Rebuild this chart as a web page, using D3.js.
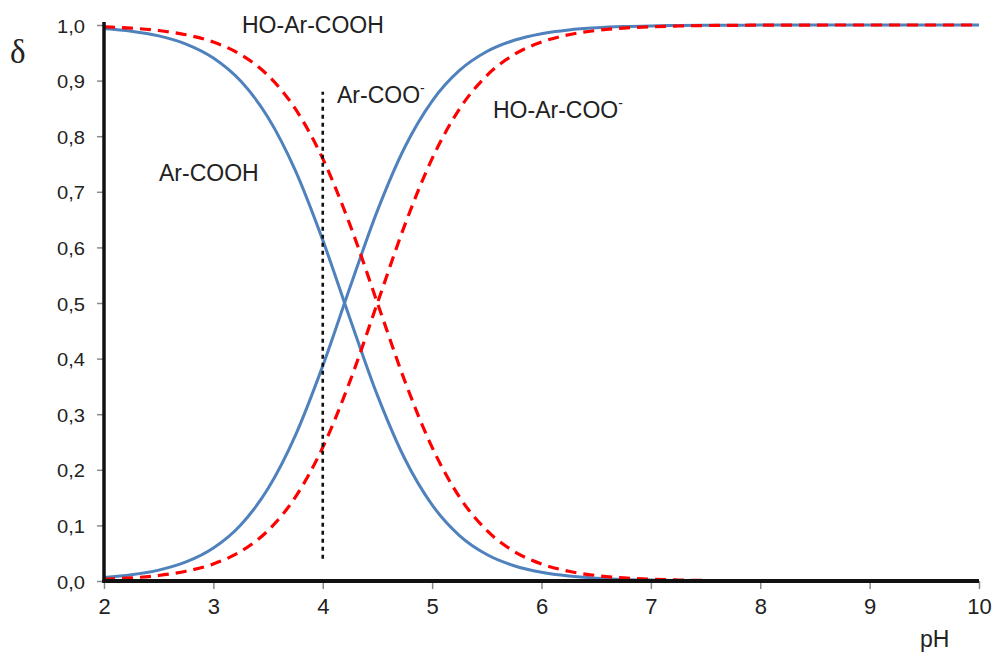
<!DOCTYPE html>
<html>
<head>
<meta charset="utf-8">
<script src="https://cdn.jsdelivr.net/npm/d3@7"></script>
<style>
  html, body { margin: 0; padding: 0; background: #fff; }
  svg { display: block; font-family: "Liberation Sans", Arial, sans-serif; }
</style>
</head>
<body>
<svg id="chart" width="994" height="657"></svg>
<script>
// pH grid (step 0.25 from 2 to 10)
const pH = d3.range(2, 10.0001, 0.25);

// Fraction of benzoic acid species
const arCOOH = [0.9937, 0.9889, 0.9804, 0.9657, 0.9406, 0.8991, 0.8337, 0.7381, 0.6131, 0.4713, 0.3338,
  0.2198, 0.1368, 0.0818, 0.0477, 0.0274, 0.0156, 0.0088, 0.0050, 0.0028, 0.0016, 0.0009, 0.0005,
  0.0003, 0.0002, 0.0001, 0, 0, 0, 0, 0, 0, 0];
const arCOO = [0.0063, 0.0111, 0.0196, 0.0343, 0.0594, 0.1009, 0.1663, 0.2619, 0.3869, 0.5287, 0.6662,
  0.7802, 0.8632, 0.9182, 0.9523, 0.9726, 0.9844, 0.9912, 0.9950, 0.9972, 0.9984, 0.9991, 0.9995,
  0.9997, 0.9998, 0.9999, 1, 1, 1, 1, 1, 1, 1];

// Fraction of hydroxybenzoic acid species
const hoArCOOH = [0.9968, 0.9944, 0.9901, 0.9825, 0.9693, 0.9468, 0.9091, 0.8490, 0.7597, 0.6401, 0.5000,
  0.3599, 0.2403, 0.1510, 0.0909, 0.0532, 0.0307, 0.0175, 0.0099, 0.0056, 0.0032, 0.0018, 0.0010,
  0.0006, 0.0003, 0.0002, 0.0001, 0, 0, 0, 0, 0, 0];
const hoArCOO = [0.0032, 0.0056, 0.0099, 0.0175, 0.0307, 0.0532, 0.0909, 0.1510, 0.2403, 0.3599, 0.5000,
  0.6401, 0.7597, 0.8490, 0.9091, 0.9468, 0.9693, 0.9825, 0.9901, 0.9944, 0.9968, 0.9982, 0.9990,
  0.9994, 0.9997, 0.9998, 0.9999, 1, 1, 1, 1, 1, 1];

// Marker line at pH 4
const markerPH = 4;
const markerRange = [0.04, 0.88];

const xTicks = [2, 3, 4, 5, 6, 7, 8, 9, 10];
const yTicks = [0, 0.1, 0.2, 0.3, 0.4, 0.5, 0.6, 0.7, 0.8, 0.9, 1.0];

const svg = d3.select("#chart");
const x = d3.scaleLinear().domain([2, 10]).range([104, 979]);
const y = d3.scaleLinear().domain([0, 1]).range([581, 25]);

const line = vals => d3.line()
  .x((d, i) => x(pH[i]))
  .y(d => y(d))
  .curve(d3.curveMonotoneX)(vals);

const blue = "#4F81BD";
const red = "#FF0000";

// Benzoic acid curves (solid blue)
[arCOOH, arCOO].forEach(v => {
  svg.append("path").attr("d", line(v))
    .attr("fill", "none").attr("stroke", blue).attr("stroke-width", 3);
});

// Hydroxybenzoic acid curves (dashed red)
[hoArCOOH, hoArCOO].forEach(v => {
  svg.append("path").attr("d", line(v))
    .attr("fill", "none").attr("stroke", red).attr("stroke-width", 3.2)
    .attr("stroke-dasharray", "11,7");
});

// Dotted marker line
svg.append("line")
  .attr("x1", x(markerPH)).attr("x2", x(markerPH))
  .attr("y1", y(markerRange[0])).attr("y2", y(markerRange[1]))
  .attr("stroke", "#111").attr("stroke-width", 2.6)
  .attr("stroke-dasharray", "4,4");

// Y axis
const fmt = d => d.toFixed(1).replace(".", ",");
const yScaleX = 1.12;
const yAxis = svg.append("g").attr("transform", `translate(${x(2)},0)`)
  .call(d3.axisLeft(y).tickValues(yTicks).tickFormat(fmt).tickSize(7).tickSizeOuter(0));
yAxis.select(".domain").remove();
yAxis.selectAll(".tick line").attr("stroke", "#8a8a8a").attr("stroke-width", 1.5);
yAxis.selectAll(".tick text")
  .attr("font-family", "'Liberation Sans', Arial, sans-serif")
  .attr("font-size", 18).attr("fill", "#222")
  .attr("x", -19 / yScaleX).attr("dy", 0).attr("y", 7)
  .attr("transform", `scale(${yScaleX},1)`);

// X axis
const xAxis = svg.append("g").attr("transform", `translate(0,${y(0)})`)
  .call(d3.axisBottom(x).tickValues(xTicks).tickFormat(d3.format("d")).tickSize(8).tickSizeOuter(0));
xAxis.select(".domain").remove();
xAxis.selectAll(".tick line").attr("stroke", "#8a8a8a").attr("stroke-width", 1.5);
xAxis.selectAll(".tick text")
  .attr("font-family", "'Liberation Sans', Arial, sans-serif")
  .attr("font-size", 22).attr("fill", "#222")
  .attr("y", 33).attr("dy", 0);

// Axis lines
svg.append("line").attr("x1", x(2)).attr("x2", x(2)).attr("y1", y(1) - 3).attr("y2", y(0) + 2)
  .attr("stroke", "#111").attr("stroke-width", 3.5);
svg.append("line").attr("x1", x(2) - 1.5).attr("x2", x(10)).attr("y1", y(0)).attr("y2", y(0))
  .attr("stroke", "#111").attr("stroke-width", 4);

// Axis titles
svg.append("text").attr("x", 10).attr("y", 63)
  .attr("font-family", "'Liberation Serif', 'DejaVu Serif', serif")
  .attr("font-size", 33).attr("fill", "#222").text("δ");
svg.append("text").attr("x", 920).attr("y", 647)
  .attr("font-size", 23).attr("fill", "#222").text("pH");

// Species labels
const labels = [
  { t: "HO-Ar-COOH", sup: false, x: 242, y: 33 },
  { t: "Ar-COO", sup: true, x: 337, y: 103 },
  { t: "HO-Ar-COO", sup: true, x: 493, y: 118 },
  { t: "Ar-COOH", sup: false, x: 159, y: 181 }
];
labels.forEach(l => {
  const tx = svg.append("text").attr("x", l.x).attr("y", l.y)
    .attr("font-size", 23).attr("fill", "#222");
  tx.append("tspan").text(l.t);
  if (l.sup) tx.append("tspan").attr("dy", -10).attr("font-size", 14).text("-");
});
</script>
</body>
</html>
